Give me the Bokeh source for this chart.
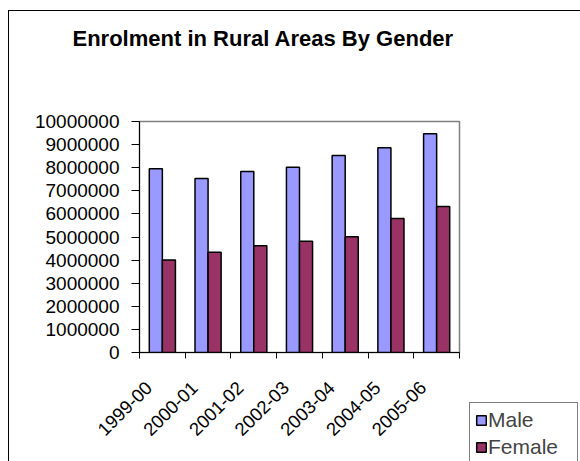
import math
from bokeh.plotting import figure
from bokeh.models import (Range1d, FixedTicker, Legend, LegendItem, ColumnDataSource,
                          NumeralTickFormatter)
from bokeh.transform import dodge
from bokeh.embed import file_html
from bokeh.resources import INLINE

years = ["1999-00", "2000-01", "2001-02", "2002-03", "2003-04", "2004-05", "2005-06"]
male = [7950000, 7530000, 7840000, 8020000, 8530000, 8860000, 9470000]
female = [4000000, 4340000, 4620000, 4820000, 5010000, 5800000, 6320000]
y_ticks = [0, 1000000, 2000000, 3000000, 4000000, 5000000, 6000000, 7000000,
           8000000, 9000000, 10000000]
title_text = "Enrolment in Rural Areas By Gender"

FONT = "Liberation Sans"
pos = [i + 1 for i in range(len(years))]
bar_w = 1 / 3.5
label_shift = 0.3  # rotated labels end a little left of the category centre

src = ColumnDataSource(dict(x=pos, male=male, female=female))

p = figure(frame_width=320, frame_height=231, output_backend="svg", toolbar_location=None,
           x_range=Range1d(0.5, len(years) + 0.5), y_range=Range1d(0, y_ticks[-1]),
           min_border_left=130, min_border_right=121,
           min_border_top=110, min_border_bottom=109)
p.styles = {"border-left": "1px solid black", "border-top": "1px solid black",
            "margin-top": "10px", "margin-left": "8px"}

p.title.text = title_text + "\n\n\n"
p.title.text_font = FONT
p.title.text_font_size = "22px"
p.title.text_font_style = "bold"
p.title.text_color = "black"
p.title.text_line_height = 0.9
p.title.align = "left"
p.title.vertical_align = "top"
p.title.offset = -67
p.title.standoff = 2

p.xgrid.visible = False
p.ygrid.visible = False
p.outline_line_color = "#808080"
p.outline_line_width = 1.5

r1 = p.vbar(x=dodge("x", -bar_w / 2), top="male", width=bar_w, source=src,
            fill_color="#9999FF", line_color="black", line_width=1.5)
r2 = p.vbar(x=dodge("x", bar_w / 2), top="female", width=bar_w, source=src,
            fill_color="#993366", line_color="black", line_width=1.5)

ya = p.yaxis[0]
ya.ticker = FixedTicker(ticks=y_ticks)
ya.formatter = NumeralTickFormatter(format="0")
ya.major_label_text_font = FONT
ya.major_label_text_font_size = "19px"
ya.major_label_text_color = "black"
ya.major_tick_out = 8
ya.major_tick_in = 0
ya.minor_tick_out = 0
ya.minor_tick_in = 0
ya.major_label_standoff = 12
ya.axis_line_color = "black"
ya.major_tick_line_color = "black"

label_pos = [v - label_shift for v in pos]
xa = p.xaxis[0]
xa.ticker = FixedTicker(ticks=label_pos,
                        minor_ticks=[v - 0.5 for v in pos] + [pos[-1] + 0.5])
xa.major_label_overrides = {v: years[i] for i, v in enumerate(label_pos)}
xa.major_label_orientation = math.pi / 4
xa.major_label_text_font = FONT
xa.major_label_text_font_size = "18.5px"
xa.major_label_text_color = "black"
xa.major_tick_out = 0
xa.major_tick_in = 0
xa.minor_tick_out = 6
xa.minor_tick_in = 0
xa.minor_tick_line_color = "black"
xa.axis_line_color = "black"
xa.major_label_standoff = 26

legend = Legend(items=[LegendItem(label="Male", renderers=[r1]),
                       LegendItem(label="Female", renderers=[r2])],
                location=(10, -113), border_line_color="black", border_line_width=1,
                label_text_font=FONT, label_text_font_size="21px",
                glyph_width=12, glyph_height=12, spacing=3, padding=5,
                label_standoff=1, label_width=84, margin=0,
                background_fill_color="white", background_fill_alpha=1)
p.add_layout(legend, "right")

open("out.html", "w").write(file_html(p, INLINE))
